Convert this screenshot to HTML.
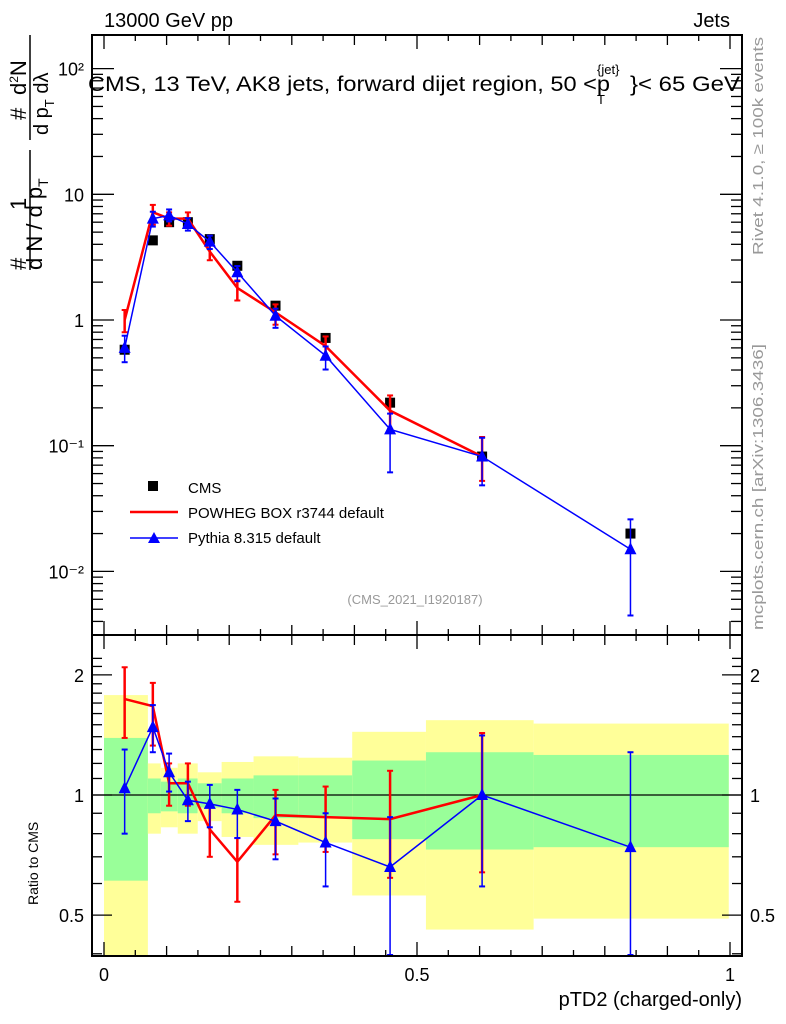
<!DOCTYPE html>
<html><head><meta charset="utf-8"><style>
body{margin:0;background:#fff;}
svg{display:block;font-family:"Liberation Sans",sans-serif;}
</style></head><body>
<svg id="c" width="786" height="1024" xmlns="http://www.w3.org/2000/svg">
<g id="bands"></g>
<g id="grid"></g>
<g id="marks"></g>
<rect x="92" y="35" width="650" height="600" fill="none" stroke="#000" stroke-width="2"/>
<rect x="92" y="635" width="650" height="321" fill="none" stroke="#000" stroke-width="2"/>
<text x="104" y="27" font-size="20">13000 GeV pp</text>
<text x="730" y="27" font-size="20" text-anchor="end">Jets</text>
<g>
<text x="88" y="91" font-size="21" textLength="522" lengthAdjust="spacingAndGlyphs">CMS, 13 TeV, AK8 jets, forward dijet region, 50 &lt;p</text>
<text x="597" y="74" font-size="13">{jet}</text>
<text x="597" y="104" font-size="13">T</text>
<text x="630" y="91" font-size="21" textLength="110" lengthAdjust="spacingAndGlyphs">}&lt; 65 GeV</text>
</g>
<text x="415" y="604" font-size="13" fill="#999" text-anchor="middle">(CMS_2021_I1920187)</text>
<text transform="translate(763,255) rotate(-90)" font-size="15" fill="#999" textLength="218" lengthAdjust="spacingAndGlyphs">Rivet 4.1.0, ≥ 100k events</text>
<text transform="translate(763,630) rotate(-90)" font-size="15" fill="#999" textLength="286" lengthAdjust="spacingAndGlyphs">mcplots.cern.ch [arXiv:1306.3436]</text>
<text transform="translate(42,270) rotate(-90)" font-size="22">d N / d p<tspan font-size="14" dy="6">T</tspan></text>
<line x1="30" y1="270" x2="30" y2="150" stroke="#000" stroke-width="1.5"/>
<line x1="30" y1="140" x2="30" y2="35" stroke="#000" stroke-width="1.5"/>
<text transform="translate(26,270) rotate(-90)" font-size="22">#</text>
<text transform="translate(26,210) rotate(-90)" font-size="22">1</text>
<text transform="translate(26,120) rotate(-90)" font-size="22">#</text>
<text transform="translate(26,95) rotate(-90)" font-size="22">d<tspan font-size="12" dy="-8">2</tspan><tspan dy="8">N</tspan></text>
<text transform="translate(48,135) rotate(-90)" font-size="20">d p<tspan font-size="13" dy="6">T</tspan><tspan dy="-6"> d</tspan>λ</text>
<text transform="translate(38,905) rotate(-90)" font-size="14">Ratio to CMS</text>
<text x="742" y="1006" font-size="20" text-anchor="end">pTD2 (charged-only)</text>
<g>
<rect x="148" y="481" width="10" height="10" fill="#000"/>
<text x="188" y="493" font-size="15">CMS</text>
<line x1="130" y1="512" x2="178" y2="512" stroke="red" stroke-width="2.5"/>
<text x="188" y="518" font-size="15">POWHEG BOX r3744 default</text>
<line x1="130" y1="538" x2="178" y2="538" stroke="#00f" stroke-width="1.5"/>
<polygon points="154,532 148,543 160,543" fill="#00f"/>
<text x="188" y="543" font-size="15">Pythia 8.315 default</text>
</g>
</svg>
<script>
const xc=[0.033,0.078,0.104,0.134,0.169,0.213,0.274,0.354,0.457,0.604,0.841];
const edges=[0,0.0701,0.0908,0.1178,0.1497,0.1879,0.2389,0.3105,0.3965,0.5143,0.6863,0.998];
const cms=[0.58,4.3,6.0,6.0,4.4,2.7,1.3,0.72,0.22,0.082,0.020];
const powMain=[1.0,7.2,6.4,6.4,3.5,1.8,1.15,0.62,0.19,0.082];
const powRatio=[1.74,1.67,1.07,1.07,0.82,0.68,0.89,0.88,0.87,1.0];
const powHi=[2.09,1.91,1.20,1.20,0.93,0.78,1.03,1.05,1.15,1.43];
const powLo=[1.39,1.33,0.94,0.94,0.70,0.54,0.71,0.72,0.62,0.64];
const pyMain=[0.60,6.4,6.8,5.8,4.2,2.4,1.08,0.52,0.135,0.082,0.015];
const pyRatio=[1.04,1.48,1.14,0.97,0.95,0.92,0.86,0.76,0.66,1.0,0.74];
const pyHi=[1.30,1.68,1.27,1.08,1.06,1.03,0.98,0.90,0.88,1.41,1.28];
const pyLo=[0.80,1.28,1.02,0.86,0.83,0.78,0.69,0.59,0.30,0.59,0.22];
const yelHi=[1.78,1.20,1.17,1.20,1.14,1.21,1.25,1.24,1.44,1.54,1.51];
const yelLo=[0.30,0.80,0.83,0.80,0.86,0.785,0.75,0.76,0.56,0.46,0.49];
const grnHi=[1.39,1.10,1.08,1.10,1.07,1.10,1.12,1.12,1.22,1.28,1.26];
const grnLo=[0.61,0.90,0.91,0.90,0.93,0.90,0.875,0.875,0.775,0.73,0.74];
const xTicks=[0,0.5,1];
const yTicks=[0.01,0.1,1,10,100];
const yTickLabels=["10⁻²","10⁻¹","1","10","10²"];
const rTicks=[0.5,1,2];

const X=v=>104+626*v;
const Y=v=>320-125.7*Math.log10(v);
const R=v=>795-399*Math.log10(v);
const NS="http://www.w3.org/2000/svg";
function mk(p,t,a){const e=document.createElementNS(NS,t);for(const k in a)e.setAttribute(k,a[k]);p.appendChild(e);return e;}
const cl=(v,a,b)=>Math.max(a,Math.min(b,v));
const bands=document.getElementById('bands'),grid=document.getElementById('grid'),marks=document.getElementById('marks');
for(let i=0;i<xc.length;i++){
 const x0=X(edges[i]),x1=X(edges[i+1]);
 const y1=cl(R(yelHi[i]),636,955),y2=cl(R(yelLo[i]),636,955);
 const r=mk(bands,'rect',{x:x0,y:y1,width:x1-x0,height:y2-y1,fill:'#ffff99'});
 
 
 const g1=R(grnHi[i]),g2=R(grnLo[i]);
 const g=mk(bands,'rect',{x:x0,y:g1,width:x1-x0,height:g2-g1,fill:'#99ff99'});
 
 
}
mk(grid,'line',{x1:92,x2:742,y1:R(1),y2:R(1),stroke:'#000','stroke-width':1.2});
for(let k=0;k<=20;k++){const v=k*0.05,x=X(v),L=(k%10==0)?14:(k%2==0?10:6);
 for(const [yb,dir] of [[35,1],[635,-1],[635,1],[956,-1]]) mk(grid,'line',{x1:x,x2:x,y1:yb,y2:yb+dir*L,stroke:'#000','stroke-width':1.3});}
xTicks.forEach(v=>{const t=mk(grid,'text',{x:X(v),y:981,'font-size':18,'text-anchor':'middle'});t.textContent=String(v);
 
 });
for(let d=-3;d<=2;d++)for(let m=1;m<10;m++){const v=m*Math.pow(10,d),y=Y(v);if(y<36||y>634)continue;const L=m==1?22:11;
 mk(grid,'line',{x1:92,x2:92+L,y1:y,y2:y,stroke:'#000','stroke-width':1.3});mk(grid,'line',{x1:742,x2:742-L,y1:y,y2:y,stroke:'#000','stroke-width':1.3});}
yTicks.forEach((v,i)=>{const t=mk(grid,'text',{x:84,y:Y(v)+7,'font-size':18,'text-anchor':'end'});t.textContent=yTickLabels[i];
 
 });
for(let k=4;k<=22;k++){const v=k/10,y=R(v);if(y<636||y>955)continue;const L=(v==0.5||v==1||v==2)?20:10;
 mk(grid,'line',{x1:92,x2:92+L,y1:y,y2:y,stroke:'#000','stroke-width':1.3});mk(grid,'line',{x1:742,x2:742-L,y1:y,y2:y,stroke:'#000','stroke-width':1.3});}
rTicks.forEach(v=>{for(const [x,a] of [[84,'end'],[750,'start']]){const t=mk(grid,'text',{x:x,y:R(v)+7,'font-size':18,'text-anchor':a});t.textContent=String(v);
 
 }});
function series(vals,ratio,hi,lo,col,w,tri,yf,name){
 const pts=vals.map((v,i)=>X(xc[i])+','+yf(v,i)).join(' ');
 const pl=mk(marks,'polyline',{points:pts,fill:'none',stroke:col,'stroke-width':w});
 
 
 vals.forEach((v,i)=>{const x=X(xc[i]);
  const a=cl(yf(v*hi[i]/ratio[i],i),36,955),b=cl(yf(v*lo[i]/ratio[i],i),36,955);
  mk(marks,'line',{x1:x,x2:x,y1:a,y2:b,stroke:col,'stroke-width':w});
  mk(marks,'line',{x1:x-3,x2:x+3,y1:a,y2:a,stroke:col,'stroke-width':2});
  mk(marks,'line',{x1:x-3,x2:x+3,y1:b,y2:b,stroke:col,'stroke-width':2});
  if(tri){const y=yf(v,i);const p=mk(marks,'polygon',{points:`${x},${y-7} ${x-6},${y+5} ${x+6},${y+5}`,fill:col});
   
   }
 });
}
const cmsG=mk(marks,'g',{});
cms.forEach((v,i)=>{const r=mk(cmsG,'rect',{x:X(xc[i])-5,y:Y(v)-5,width:10,height:10,fill:'#000'});
 
 });
series(powMain,powRatio,powHi,powLo,'red',2.5,false,(v)=>Y(v),'powheg');
series(pyMain,pyRatio,pyHi,pyLo,'#00f',1.5,true,(v)=>Y(v),'pythia');
series(powRatio,powRatio,powHi,powLo,'red',2.5,false,(v)=>R(v),'powheg-ratio');
series(pyRatio,pyRatio,pyHi,pyLo,'#00f',1.5,true,(v)=>R(v),'pythia-ratio');
</script>
</body></html>
